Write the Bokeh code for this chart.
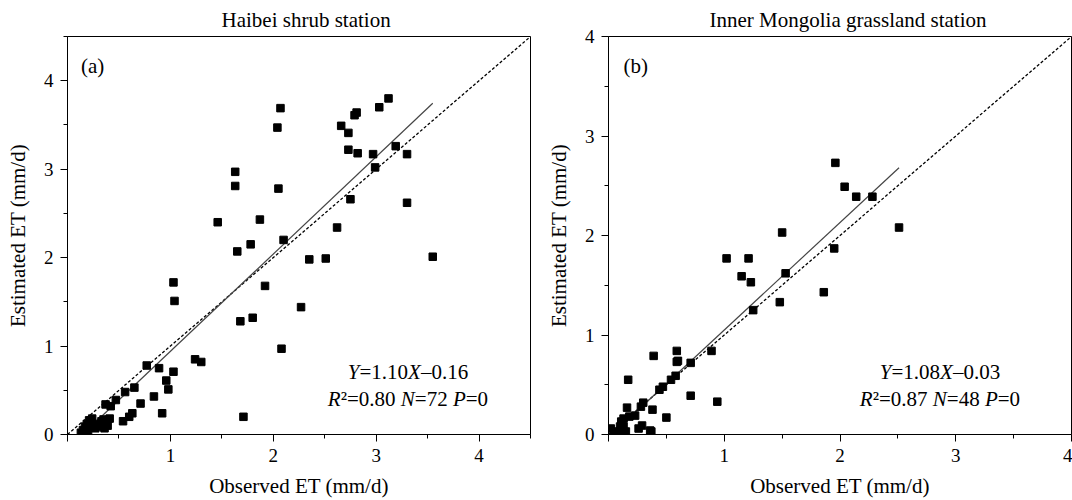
import numpy as np
from bokeh.plotting import figure
from bokeh.models import Label, FixedTicker, Range1d, Title
from bokeh.layouts import row
from bokeh.embed import file_html
from bokeh.resources import INLINE

# ---------------- data ----------------
haibei_obs = [2.07, 2.04, 2.66, 2.73, 2.79, 2.81, 3.03, 3.12, 2.73, 2.82, 2.97, 3.19,
              3.30, 2.99, 2.75, 3.30, 1.63, 1.63, 2.05, 1.46, 1.87, 2.62, 1.65, 1.78,
              2.10, 2.35, 2.51, 3.55, 1.03, 1.04, 1.92, 2.27, 1.80, 1.68, 2.08, 1.24,
              1.30, 0.77, 0.89, 1.03, 0.96, 0.98, 0.65, 0.56, 0.84, 0.47, 0.71, 0.42,
              0.37, 0.92, 1.71, 0.63, 0.60, 0.54,
              0.13, 0.15, 0.17, 0.19, 0.21, 0.23, 0.25, 0.27, 0.29, 0.31, 0.33, 0.35,
              0.37, 0.39, 0.41, 0.36, 0.20, 0.24]
haibei_est = [3.69, 3.47, 3.49, 3.41, 3.61, 3.64, 3.70, 3.80, 3.22, 3.18, 3.17, 3.26,
              3.17, 3.02, 2.66, 2.62, 2.97, 2.81, 2.78, 2.40, 2.43, 2.34, 2.07, 2.15,
              2.20, 1.98, 1.99, 2.01, 1.72, 1.51, 1.68, 1.44, 1.32, 1.28, 0.97, 0.85,
              0.82, 0.78, 0.75, 0.71, 0.61, 0.51, 0.53, 0.48, 0.43, 0.39, 0.35, 0.32,
              0.34, 0.24, 0.20, 0.24, 0.20, 0.15,
              0.02, 0.05, 0.09, 0.12, 0.16, 0.14, 0.10, 0.07, 0.09, 0.12, 0.15, 0.17,
              0.13, 0.10, 0.18, 0.07, 0.03, 0.18]
haibei_slope, haibei_intercept = 1.10, -0.16
haibei_fit_x = [0.145, 3.55]

im_obs = [1.96, 2.04, 2.14, 2.28, 2.51, 1.50, 1.95, 1.02, 1.21, 1.15, 1.23, 1.53,
          1.86, 1.48, 1.25, 0.59, 0.89, 0.39, 0.60, 0.59, 0.71, 0.17, 0.58, 0.54,
          0.47, 0.44, 0.71, 0.94, 0.30, 0.28, 0.38, 0.16, 0.23, 0.18, 0.50, 0.29,
          0.26, 0.36, 0.37, 0.02, 0.11, 0.13, 0.15, 0.08, 0.12, 0.10, 0.05, 0.13]
im_est = [2.73, 2.49, 2.39, 2.39, 2.08, 2.03, 1.87, 1.77, 1.77, 1.59, 1.53, 1.62,
          1.43, 1.33, 1.25, 0.84, 0.84, 0.79, 0.74, 0.73, 0.72, 0.55, 0.59, 0.55,
          0.48, 0.45, 0.39, 0.33, 0.32, 0.28, 0.25, 0.27, 0.19, 0.18, 0.17, 0.09,
          0.06, 0.04, 0.03, 0.06, 0.13, 0.08, 0.03, 0.03, 0.03, 0.08, 0.01, 0.16]
im_slope, im_intercept = 1.08, -0.03
im_fit_x = [0.028, 2.51]

xticks_a = [0, 1, 2, 3, 4]
xminor_a = [0.5, 1.5, 2.5, 3.5, 4.5]
yticks_a = [0, 1, 2, 3, 4]
yminor_a = [0.5, 1.5, 2.5, 3.5, 4.5]
xticks_b = [0, 1, 2, 3, 4]
xminor_b = [0.5, 1.5, 2.5, 3.5]
yticks_b = [0, 1, 2, 3, 4]
yminor_b = [0.5, 1.5, 2.5, 3.5]

title_a = "Haibei shrub station"
title_b = "Inner Mongolia grassland station"
xlabel = "Observed ET (mm/d)"
ylabel = "Estimated ET (mm/d)"

FONT = "Liberation Serif"
SIZE = 21

# Times metrics (per em)
W_N = {" ": .25, "(": .333, ")": .333, "/": .278, ".": .25, "=": .564, "\u2013": .5,
       "\u00b2": .3, "a": .444, "b": .5, "d": .5, "e": .444, "i": .278, "m": .778,
       "r": .333, "s": .389, "t": .278, "v": .5, "O": .722, "E": .611}
for c in "0123456789":
    W_N[c] = .5
W_I = {"Y": .556, "X": .611, "R": .611, "N": .667, "P": .611, "E": .611, "T": .556}


def width(txt, italic, size):
    tab = W_I if italic else W_N
    return sum(tab.get(c, .5) for c in txt) * size


def add_rich(p, pieces, center, base, conv, size=SIZE, align="center"):
    widths = [width(t, it, size) + gap * size for t, it, gap in pieces]
    total = sum(widths)
    pos = center - total / 2 if align == "center" else center
    for (t, it, gap), w in zip(pieces, widths):
        x, y = conv(pos, base)
        lab = Label(x=x, y=y, text=t)
        pos += w
        lab.text_font = FONT
        lab.text_font_size = f"{size}px"
        lab.text_font_style = "italic" if it else "normal"
        lab.text_align = "left"
        lab.text_baseline = "alphabetic"
        lab.text_color = "black"
        p.add_layout(lab)


def make_panel(width_px, bl, br, xmax, ymax, xt, xm, yt, ym, title, title_offset, ylab_standoff):
    p = figure(width=width_px, height=500, x_range=Range1d(0, xmax), y_range=Range1d(0, ymax),
               output_backend="svg", toolbar_location=None,
               min_border_left=bl, min_border_right=br, min_border_top=36, min_border_bottom=65)
    p.title = Title(text=title, align="left", offset=title_offset, standoff=10,
                    text_font=FONT, text_font_size=f"{SIZE}px", text_font_style="normal",
                    text_color="black")
    p.grid.visible = False
    p.outline_line_color = "black"
    p.outline_line_alpha = 1
    p.outline_line_width = 1
    p.background_fill_color = "white"
    p.border_fill_color = "white"
    p.xaxis.ticker = FixedTicker(ticks=xt, minor_ticks=xm)
    p.yaxis.ticker = FixedTicker(ticks=yt, minor_ticks=ym)
    p.xaxis.major_label_overrides = {0: ""}
    p.xaxis.axis_label = xlabel
    p.yaxis.axis_label = ylabel
    p.xaxis.axis_label_standoff = 9
    p.yaxis.axis_label_standoff = ylab_standoff
    for ax in (p.xaxis[0], p.yaxis[0]):
        ax.axis_line_color = "black"
        ax.major_tick_line_color = "black"
        ax.minor_tick_line_color = "black"
        ax.major_tick_out = 7
        ax.major_tick_in = 0
        ax.minor_tick_out = 4
        ax.minor_tick_in = 0
        ax.major_label_text_font = FONT
        ax.major_label_text_font_size = "19px"
        ax.major_label_text_color = "black"
        ax.major_label_standoff = 7
        ax.axis_label_text_font = FONT
        ax.axis_label_text_font_size = f"{SIZE}px"
        ax.axis_label_text_font_style = "normal"
        ax.axis_label_text_color = "black"
    return p


# ---------------- panel (a) ----------------
pa = make_panel(536, 67, 6, 4.5, 4.5, xticks_a, xminor_a, yticks_a, yminor_a,
                title_a, 221 - 67, 11)
conv_a = lambda px, py: ((px - 67) / (463 / 4.5), (435 - py) / (399 / 4.5))
pa.line([0, 4.5], [0, 4.5], line_color="black", line_width=1.3, line_dash="3 2")
fx = np.array(haibei_fit_x)
pa.line(fx, haibei_slope * fx + haibei_intercept, line_color="#444444", line_width=1.2)
pa.scatter(haibei_obs, haibei_est, marker="square", size=7.5, color="black")

add_rich(pa, [("(a)", False, 0)], 80.5, 66, conv_a, align="left")
add_rich(pa, [("Y", True, 0), ("=1.10", False, 0), ("X", True, 0), ("\u20130.16", False, 0)],
         407.5, 372, conv_a)
add_rich(pa, [("R", True, 0), ("\u00b2=0.80", False, .25), ("N", True, 0), ("=72", False, .25),
              ("P", True, 0), ("=0", False, 0)], 407.5, 399.5, conv_a)

# ---------------- panel (b) ----------------
pb = make_panel(536, 72, 1, 4, 4, xticks_b, xminor_b, yticks_b, yminor_b,
                title_b, 709 - 608, 11)
conv_b = lambda px, py: ((px - 608) / (463 / 4), (435 - py) / (399 / 4))
pb.line([0, 4], [0, 4], line_color="black", line_width=1.3, line_dash="3 2")
fx = np.array(im_fit_x)
pb.line(fx, im_slope * fx + im_intercept, line_color="#444444", line_width=1.2)
pb.scatter(im_obs, im_est, marker="square", size=7.5, color="black")

add_rich(pb, [("(b)", False, 0)], 623, 66, conv_b, align="left")
add_rich(pb, [("Y", True, 0), ("=1.08", False, 0), ("X", True, 0), ("\u20130.03", False, 0)],
         939.5, 372, conv_b)
add_rich(pb, [("R", True, 0), ("\u00b2=0.87", False, .25), ("N", True, 0), ("=48", False, .25),
              ("P", True, 0), ("=0", False, 0)], 939.5, 399.5, conv_b)

layout = row(pa, pb)
open("out.html", "w").write(file_html(layout, INLINE))
